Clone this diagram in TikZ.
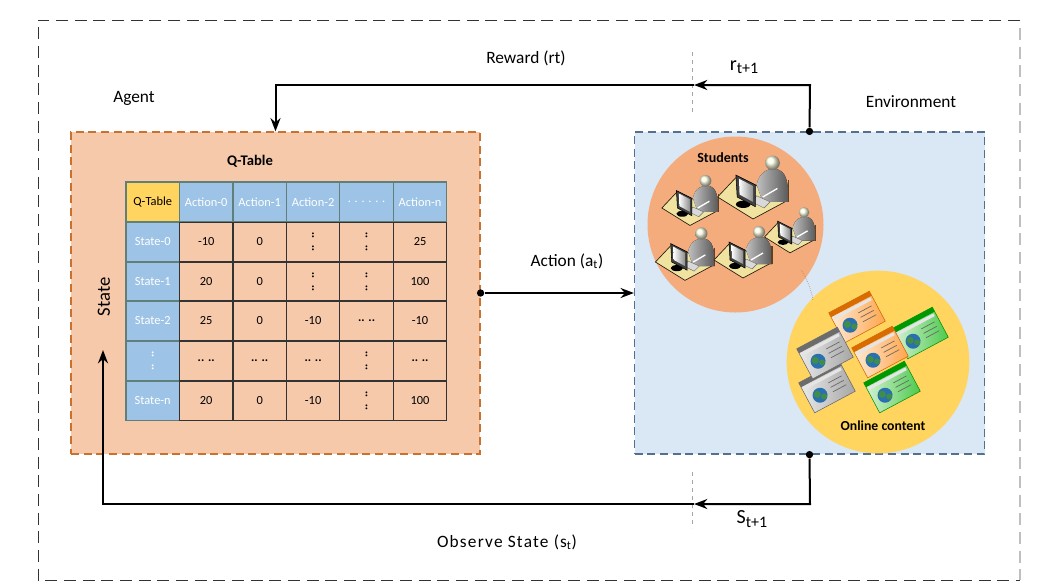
\documentclass[tikz,border=0pt]{standalone}
\usepackage{fontspec}
\setmainfont{Carlito}
\usetikzlibrary{positioning, arrows.meta}
\definecolor{agentfill}{HTML}{F6C9AB}
\definecolor{agentdash}{HTML}{C9722F}
\definecolor{envfill}{HTML}{DAE7F5}
\definecolor{envdash}{HTML}{55708F}
\definecolor{headblue}{HTML}{9DC3E6}
\definecolor{headgold}{HTML}{FFD45F}
\definecolor{headline}{HTML}{5F7F78}
\definecolor{studentfill}{HTML}{F4AC7C}
\definecolor{deskfill}{HTML}{F0E3A0}
\definecolor{globeblue}{HTML}{2A6FB0}
\definecolor{globegreen}{HTML}{3E8E4A}
\newcommand{\dotsh}{\textbf{.. ..}}
\newcommand{\dotsv}{\rotatebox{90}{\textbf{.. \,..}}}
\newcommand{\dotsrow}{. . . . . .}
\tikzset{
x=0.75pt, y=-0.75pt,
flow/.style={line width=1.5pt, >={Stealth[length=10pt,width=7.5pt]}},
dotnode/.style={circle, fill=black, inner sep=0pt, minimum size=5.5pt},
label/.style={font=\fontsize{13}{15}\selectfont, inner sep=0pt},
boxdash/.style={dash pattern=on 6pt off 3.5pt, line width=0.9pt, minimum height=241.5pt, inner sep=0pt},
cell/.style={draw=black!80, line width=0.9pt, fill=agentfill, minimum width=40.1pt, minimum height=29.8pt, inner sep=0pt, outer sep=0pt, font=\fontsize{9.3}{11}\selectfont},
headcell/.style={cell, draw=headline, fill=headblue, text=white},
pics/student/.style={code={
  \draw[black!80!brown, fill=deskfill, line width=0.5pt] (-29,0) -- (-13,-17) -- (28,3) -- (0,18) -- cycle;
  \fill[left color=black!25, right color=black!65] (3,-10) .. controls (5,-20) and (12,-24) .. (19,-23) .. controls (27,-21) and (29,-14) .. (29,4) -- (8,4) -- cycle;
  \draw[brown!50!black, line width=0.8pt] (29,-14) -- (29,4);
  \shade[ball color=white!90!yellow] (16,-28) circle (6);
  \fill[black!15, draw=black!60, line width=0.3pt] (3,-1) -- (14,4) -- (9,9) -- (-1,4) -- cycle;
  \draw[white, line width=1pt] (8,0) -- (20,-7);
  \fill[black] (-8,6) ellipse (6 and 3);
  \draw[black, fill=black!75, line width=0.4pt] (-14,-18) -- (2,-10) -- (2,8) -- (-13,0) -- cycle;
  \shade[left color=white, right color=black!45] (-11.5,-15) -- (0,-9) -- (0,4) -- (-11,-2) -- cycle;
}},
pics/webpage/.style={code={
  \draw[#1!80!black, line width=0.4pt, left color=#1!15, right color=#1!70] (-23,-17) rectangle (23,17);
  \fill[#1!85!black] (-23,-17) rectangle (23,-12);
  \fill[black!10] (-21,-11) rectangle (21,-8);
  \fill[globeblue] (-10,4) circle (7.5);
  \fill[globegreen] (-12,2) circle (3.5) (-7,7) circle (3);
  \draw[black!60, line width=0.5pt] (3,-3) -- (18,-3) (3,2) -- (18,2) (3,7) -- (18,7);
}},
}

\begin{document}
\begin{tikzpicture}
\useasboundingbox (0,0) rectangle (1040,583);
% outer frame
\coordinate (frameTL) at (38,20);
\coordinate (frameTR) at (1020,20);
\coordinate (frameBL) at (38,580);
\coordinate (frameBR) at (1020,580);
\draw[dash pattern=on 9pt off 5pt, black!80, line width=0.7pt] (frameTR) -- (frameTL) -- (frameBL) -- (frameBR);
\draw[dash pattern=on 9pt off 5pt, black!25, line width=0.8pt] (1020,28) -- (frameBR);
% boxes
\node[boxdash, draw=agentdash, fill=agentfill, minimum width=306.75pt] (agent) at (275.5,293) {};
\node[boxdash, draw=envdash, fill=envfill, minimum width=262.5pt] (env) at (809.5,293) {};
% table
\foreach \y/\first/\cellA/\cellB/\cellC/\cellD/\cellE [count=\r] in {
  222/State-0/-10/0/\dotsv/\dotsv/25,
  262/State-1/20/0/\dotsv/\dotsv/100,
  301/State-2/25/0/-10/\dotsh/-10,
  341/\dotsv/\dotsh/\dotsh/\dotsh/\dotsv/\dotsh,
  381/State-n/20/0/-10/\dotsv/100}{
  \node[headcell, anchor=north west] (row\r) at (126,\y) {\first};
  \node[cell, right=0pt of row\r] (row\r-a) {\cellA};
  \node[cell, right=0pt of row\r-a] (row\r-b) {\cellB};
  \node[cell, right=0pt of row\r-b] (row\r-c) {\cellC};
  \node[cell, right=0pt of row\r-c] (row\r-d) {\cellD};
  \node[cell, right=0pt of row\r-d] (row\r-e) {\cellE};
}
\node[headcell, fill=headgold, text=black, anchor=north west] (qhead) at (126,182) {Q-Table};
\node[headcell, right=0pt of qhead] (act0) {Action-0};
\node[headcell, right=0pt of act0] (act1) {Action-1};
\node[headcell, right=0pt of act1] (act2) {Action-2};
\node[headcell, right=0pt of act2] (actdots) {\dotsrow};
\node[headcell, right=0pt of actdots] (actn) {Action-n};
% circles
\node[circle, fill=studentfill, minimum size=132pt, inner sep=0pt] (students) at (735.5,224.5) {};
\node[circle, fill=headgold, minimum size=137pt, inner sep=0pt] (online) at (878,362) {};
\draw[densely dotted, brown!80!black, line width=0.4pt] (801,270) .. controls (808,280) and (811,290) .. (813,300);
\pic[scale=0.97] at (690,208) {student};
\pic[scale=1.22] at (753,197) {student};
\pic[scale=0.88] at (790,237) {student};
\pic[scale=1.02] at (685,262) {student};
\pic[scale=1.00] at (743,260) {student};
\pic[rotate=28] at (857,317) {webpage=orange};
\pic[rotate=28] at (827,387) {webpage=gray};
\pic[rotate=28] at (825,353) {webpage=gray};
\pic[rotate=28] at (920,333) {webpage=green!70!black};
\pic[rotate=28] at (892,387) {webpage=green!70!black};
\pic[rotate=28] at (880,352) {webpage=orange};
% labels
\node[label] (agentlabel) at (134,98) {Agent};
\node[label] (envlabel) at (911,102) {Environment};
\node[label, font=\fontsize{11}{13}\selectfont\bfseries] (qtitle) at (250,161) {Q-Table};
\node[label, font=\fontsize{10.5}{12}\selectfont\bfseries] (studentlabel) at (723,158) {Students};
\node[label, font=\fontsize{10.3}{12}\selectfont\bfseries] (onlinelabel) at (883,426) {Online content};
\node[label] (rewardlabel) at (526,58) {Reward (rt)};
\node[label] (rnext) at (744,67) {\fontsize{15}{17}\selectfont r\raisebox{-2.5pt}{\fontsize{12}{14}\selectfont t+1}};
\node[label] (actionlabel) at (567,261) {Action (a\textsubscript{t})};
\node[label] (snext) at (752,519) {\fontsize{15}{17}\selectfont S\raisebox{-2.5pt}{\fontsize{12}{14}\selectfont t+1}};
\node[label] (observelabel) at (507,542) {\addfontfeature{LetterSpace=7}Observe State (s\textsubscript{t})};
\node[label, rotate=90, font=\fontsize{14}{16}\selectfont] (statelabel) at (104,297) {State};
% time step marks
\draw[dashed, black!35, line width=0.4pt] (692,52) -- (692,113);
\draw[dashed, black!35, line width=0.4pt] (692,472) -- (692,528);
% connectors
\coordinate (rewardtop) at (810,85);
\coordinate (rewardmid) at (694,85);
\coordinate (observelow) at (810,504);
\coordinate (observemid) at (694,504);
\coordinate (statetip) at (103,350);
\node[dotnode] (rewarddot) at (env.north) {};
\node[dotnode] (observedot) at (env.south) {};
\node[dotnode] (actiondot) at (agent.east) {};
\draw[flow, ->] (rewarddot) -- (rewardtop) -- (rewardmid);
\draw[flow, ->] (rewardmid) -| (agent.north);
\draw[flow, ->] (actiondot) -- (env.west);
\draw[flow, ->] (observedot) -- (observelow) -- (observemid);
\draw[flow, ->] (observemid) -| (statetip);
\end{tikzpicture}
\end{document}
